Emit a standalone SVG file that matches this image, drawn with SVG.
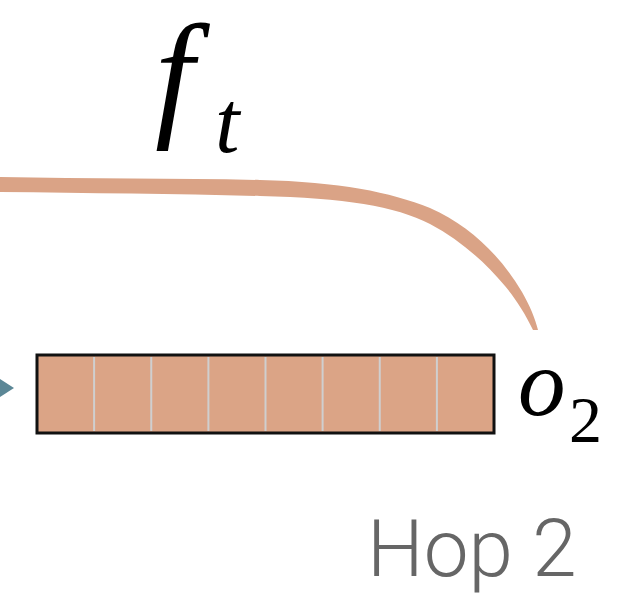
<svg xmlns="http://www.w3.org/2000/svg" width="642" height="606" viewBox="0 0 642 606">
<defs>
<style>
.cell{fill:#DBA486}
.div{stroke:#CFCFCF;stroke-width:2}
.serif{font-family:"Liberation Serif",serif;fill:#000}
</style>
</defs>
<rect width="642" height="606" fill="#fff"/>
<g id="connectors">
<path d="M0,177 C90,179 180,178 260,180 C340,182 390,192 430,208 C470,226 500,255 522,292 C530,306 535,318 538,330 L533,330 C525,313 515,298 505,286 C485,262 460,240 430,224 C395,206 345,198 260,196 C180,194 90,193 0,192 Z" fill="#DAA386"/>
<polygon points="0,379 14,388 0,397" fill="#5B8796"/>
</g>
<g id="label-ft">
<text class="serif" x="155" y="121" font-style="italic" font-size="140">f</text>
<text class="serif" x="215" y="152" font-style="italic" font-size="88">t</text>
</g>
<g id="o2">
<rect x="37" y="355" width="457" height="78" class="cell"/>
<line class="div" x1="94.1" y1="357" x2="94.1" y2="431"/>
<line class="div" x1="151.25" y1="357" x2="151.25" y2="431"/>
<line class="div" x1="208.4" y1="357" x2="208.4" y2="431"/>
<line class="div" x1="265.5" y1="357" x2="265.5" y2="431"/>
<line class="div" x1="322.6" y1="357" x2="322.6" y2="431"/>
<line class="div" x1="379.75" y1="357" x2="379.75" y2="431"/>
<line class="div" x1="436.9" y1="357" x2="436.9" y2="431"/>
<rect x="37" y="355" width="457" height="78" fill="none" stroke="#111" stroke-width="3"/>
<text class="serif" x="518" y="415" font-style="italic" font-size="95">o</text>
<text class="serif" x="569" y="442" font-size="66">2</text>
</g>
<g id="hop-label">
<text x="367" y="576" font-family="Roboto, 'Liberation Sans', sans-serif" font-weight="300" font-size="80" fill="#666">Hop 2</text>
</g>
</svg>
